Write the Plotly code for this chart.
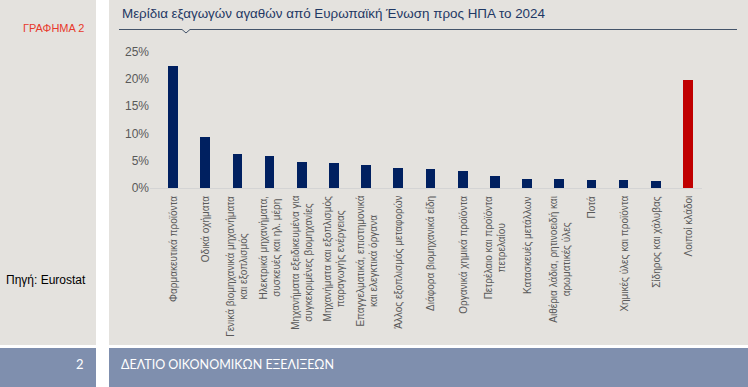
import plotly.graph_objects as go

W, H = 748, 387

categories = [
    "Φαρμακευτικά προϊόντα",
    "Οδικά οχήματα",
    "Γενικά βιομηχανικά μηχανήματα<br>και εξοπλισμός",
    "Ηλεκτρικά μηχανήματα,<br>συσκευές και ηλ. μέρη",
    "Μηχανήματα εξειδικευμένα για<br>συγκεκριμένες βιομηχανίες",
    "Μηχανήματα και εξοπλισμός<br>παραγωγής ενέργειας",
    "Επαγγελματικά, επιστημονικά<br>και ελεγκτικά όργανα",
    "Άλλος εξοπλισμός μεταφορών",
    "Διάφορα βιομηχανικά είδη",
    "Οργανικά χημικά προϊόντα",
    "Πετρέλαιο και προϊόντα<br>πετρελαίου",
    "Κατασκευές μετάλλων",
    "Αιθέρια λάδια, ρητινοειδή και<br>αρωματικές ύλες",
    "Ποτά",
    "Χημικές ύλες και προϊόντα",
    "Σίδηρος και χάλυβας",
    "Λοιποί κλάδοι",
]
shares = [0.224, 0.095, 0.064, 0.059, 0.048, 0.046, 0.043, 0.038, 0.036,
          0.032, 0.022, 0.018, 0.018, 0.016, 0.015, 0.013, 0.199]
y_ticks = [0, 0.05, 0.10, 0.15, 0.20, 0.25]

title_text = "Μερίδια εξαγωγών αγαθών από Ευρωπαϊκή Ένωση προς ΗΠΑ το 2024"
chart_label = "ΓΡΑΦΗΜΑ 2"
source_text = "Πηγή: Eurostat"
page_no = "2"
footer_text = "ΔΕΛΤΙΟ ΟΙΚΟΝΟΜΙΚΩΝ ΕΞΕΛΙΞΕΩΝ"

NAVY = "#002060"
RED = "#c00000"
BG = "#e4e2de"
FOOT = "#7f8fae"
GREY_TXT = "#595959"
SANS = "Liberation Sans, Arial, sans-serif"


def px(x):
    return x / W


def py(y):
    return 1 - y / H


colors = [NAVY] * (len(categories) - 1) + [RED]

fig = go.Figure()
fig.add_trace(go.Bar(x=categories, y=shares, marker=dict(color=colors, line=dict(width=0)),
                     width=0.3, hoverinfo="skip"))

# plot area: x 150..702 px, y 52..188 px
fig.update_layout(
    width=W, height=H,
    template="none",
    margin=dict(l=0, r=0, t=0, b=0),
    paper_bgcolor=BG, plot_bgcolor=BG,
    showlegend=False,
    bargap=0,
    xaxis=dict(domain=[px(150), px(702)], range=[-0.714, 16.435], type="category",
               showline=True, linecolor="#d4d4d4", linewidth=1, showgrid=False,
               zeroline=False, ticks="", showticklabels=False, automargin=False),
    yaxis=dict(domain=[py(188), py(51.5)], range=[0, 0.25], tickvals=y_ticks,
               tickformat=".0%", showgrid=False, zeroline=False, showline=False,
               ticks="", tickfont=dict(family=SANS, size=12, color=GREY_TXT),
               automargin=False),
)

shapes = []
shapes.append(dict(type="rect", xref="paper", yref="paper", x0=0, x1=1,
                   y0=py(387), y1=py(348), fillcolor=FOOT, line=dict(width=0), layer="below"))
shapes.append(dict(type="rect", xref="paper", yref="paper", x0=0, x1=1,
                   y0=py(348), y1=py(345), fillcolor="white", line=dict(width=0), layer="below"))
shapes.append(dict(type="rect", xref="paper", yref="paper", x0=px(96), x1=px(109),
                   y0=0, y1=1, fillcolor="white", line=dict(width=0), layer="below"))
pts = [(119, 29.5), (182, 29.5), (186, 33), (190, 29.5), (737, 29.5)]
path = "M " + " L ".join(f"{px(a):.5f},{py(b):.5f}" for a, b in pts)
shapes.append(dict(type="path", xref="paper", yref="paper", path=path,
                   line=dict(color="#44546a", width=1)))
fig.update_layout(shapes=shapes)

annotations = []
for c in categories:
    annotations.append(dict(x=c, xref="x", y=py(194), yref="paper", text=c,
                            textangle=-90, xanchor="center", yanchor="top",
                            align="center", showarrow=False,
                            font=dict(family=SANS, size=10, color=GREY_TXT)))
annotations.append(dict(x=px(120), y=py(13), xref="paper", yref="paper", text=title_text,
                        xanchor="left", yanchor="middle", showarrow=False,
                        font=dict(family=SANS, size=13.4, color="#1f3864")))
annotations.append(dict(x=px(21), y=py(28), xref="paper", yref="paper", text=chart_label,
                        xanchor="left", yanchor="middle", showarrow=False,
                        font=dict(family=SANS, size=11, color="#e8392b")))
annotations.append(dict(x=px(4), y=py(280), xref="paper", yref="paper", text=source_text,
                        xanchor="left", yanchor="middle", showarrow=False,
                        font=dict(family=SANS, size=12, color="#000000")))
annotations.append(dict(x=px(86), y=py(364), xref="paper", yref="paper", text=page_no,
                        xanchor="right", yanchor="middle", showarrow=False,
                        font=dict(family="Lato, sans-serif", size=13, color="white")))
annotations.append(dict(x=px(119), y=py(364), xref="paper", yref="paper", text=footer_text,
                        xanchor="left", yanchor="middle", showarrow=False,
                        font=dict(family="Lato, sans-serif", size=12.5, color="white")))
fig.update_layout(annotations=annotations)

fig.write_html("out.html", config={"displayModeBar": False},
               post_script="document.body.style.margin='0px';document.body.style.overflow='hidden';")
